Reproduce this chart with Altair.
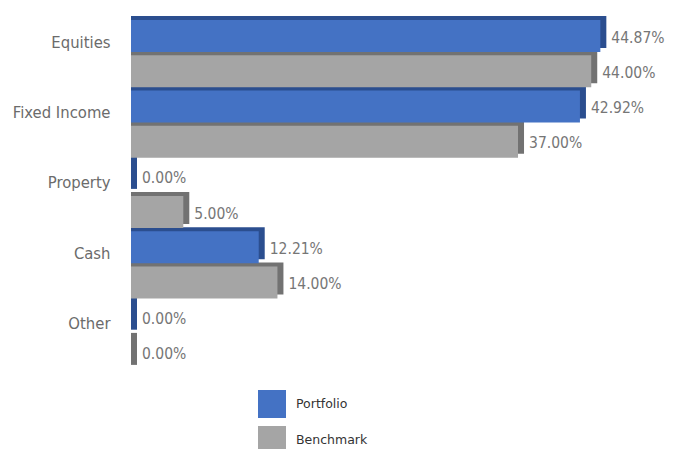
import altair as alt
import pandas as pd

categories = ["Equities", "Fixed Income", "Property", "Cash", "Other"]
series_names = ["Portfolio", "Benchmark"]
portfolio = [44.87, 42.92, 0.00, 12.21, 0.00]
benchmark = [44.00, 37.00, 5.00, 14.00, 0.00]

front_colors = ["#4472C4", "#A5A5A5"]
side_colors = ["#2B4E8F", "#727272"]

rows = []
for c, p, b in zip(categories, portfolio, benchmark):
    rows.append({"row": f"{c}|Portfolio", "cat": c, "series": "Portfolio", "v": p})
    rows.append({"row": f"{c}|Benchmark", "cat": c, "series": "Benchmark", "v": b})
df = pd.DataFrame(rows)
order = list(df["row"])

FONT = "DejaVu Sans Condensed, sans-serif"

y = alt.Y(
    "row:N",
    sort=order,
    scale=alt.Scale(paddingInner=0, paddingOuter=0),
    axis=alt.Axis(
        title=None,
        domain=False,
        ticks=False,
        grid=False,
        labelExpr="split(datum.value, '|')[1] == 'Portfolio' ? split(datum.value, '|')[0] : ''",
        labelFont=FONT,
        labelFontSize=16.5,
        labelColor="#6b6b6b",
        labelPadding=21,
        labelOffset=8,
        labelLimit=200,
    ),
)
xscale = alt.Scale(domain=[0, 50], zero=True, nice=False)

base = alt.Chart(df)

back = base.mark_bar(size=32, yOffset=-2.5, xOffset=6).encode(
    x=alt.X("v:Q", scale=xscale, axis=None),
    x2=alt.datum(0),
    y=y,
    color=alt.Color("series:N", scale=alt.Scale(domain=series_names, range=side_colors), legend=None),
)

front = base.mark_bar(size=32, yOffset=1.5).encode(
    x=alt.X("v:Q", scale=xscale, axis=None),
    x2=alt.datum(0),
    y=y,
    color=alt.Color(
        "series:N",
        scale=alt.Scale(domain=series_names, range=front_colors),
        legend=alt.Legend(
            title=None,
            orient="none",
            legendX=127,
            legendY=373,
            direction="vertical",
            symbolType="square",
            symbolSize=784,
            symbolStrokeWidth=0,
            labelFont="DejaVu Sans",
            labelFontSize=12.5,
            labelColor="#333333",
            labelOffset=10,
            rowPadding=8,
        ),
    ),
)

labels = base.transform_calculate(
    lab="format(datum.v, '.2f') + '%'"
).mark_text(
    align="left", baseline="middle", dx=11, dy=3, font=FONT, fontSize=15.5, color="#767676"
).encode(
    x=alt.X("v:Q", scale=xscale, axis=None),
    y=y,
    text="lab:N",
)

chart = (
    alt.layer(back, front, labels)
    .resolve_scale(color="independent")
    .properties(
        width=523,
        height=352,
        autosize=alt.AutoSizeParams(type="none"),
        padding={"left": 123, "top": 9, "right": 16, "bottom": 80},
    )
    .configure_view(stroke=None)
)

chart.save("out.html", embed_options={"renderer": "svg", "actions": False})
